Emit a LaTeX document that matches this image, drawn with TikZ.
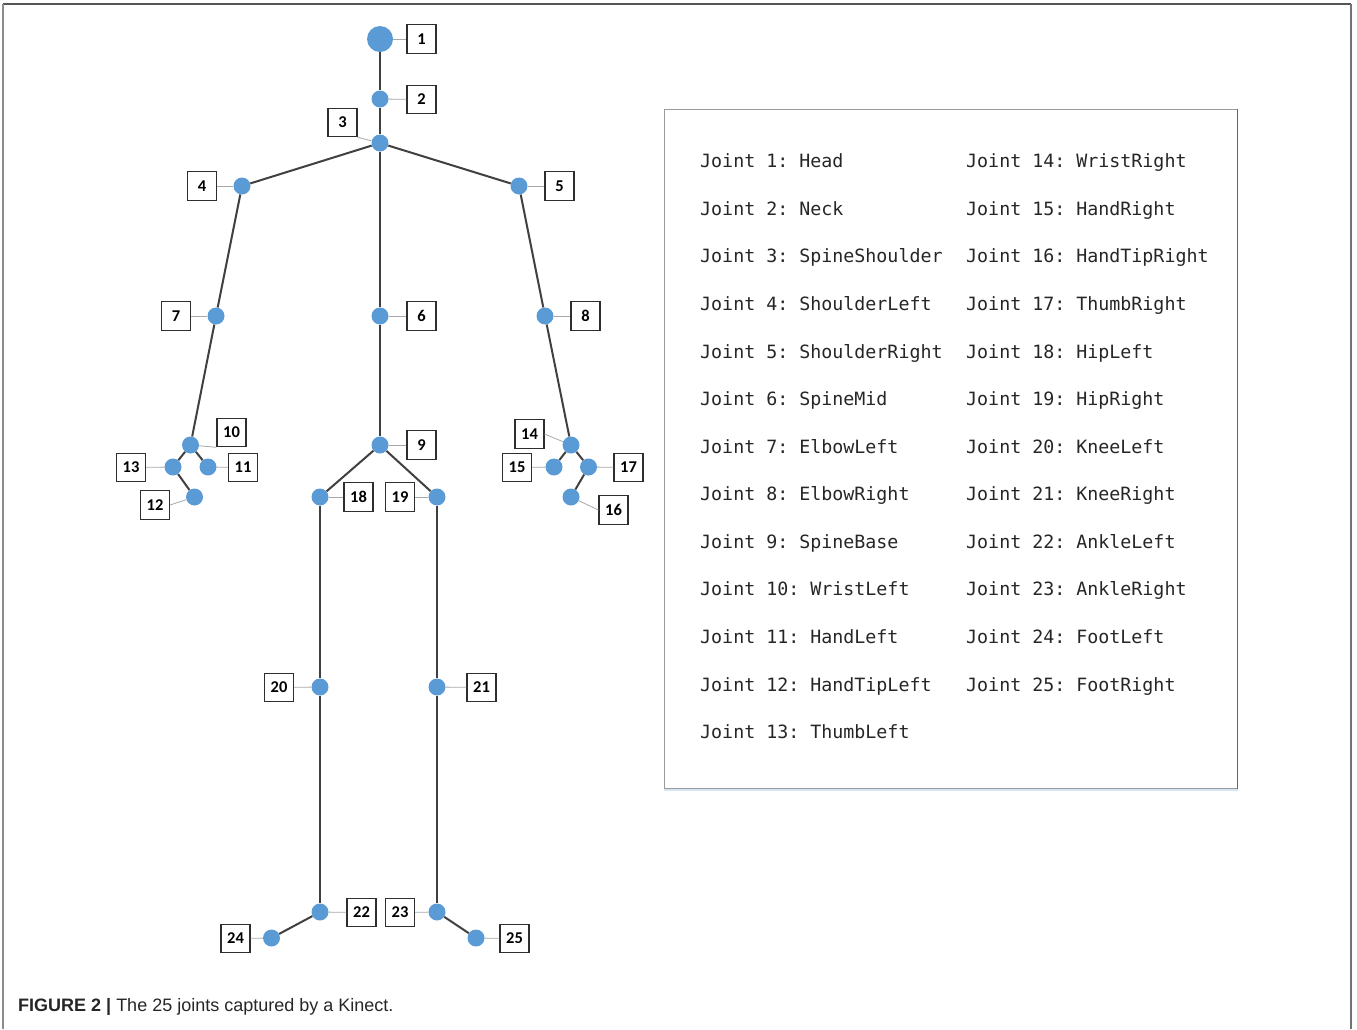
\documentclass[tikz,border=0pt]{standalone}
\usepackage{fontspec}
\setmainfont{Liberation Sans}
\newfontfamily\numfont{Carlito}
\newfontfamily\listfont{DejaVu Sans Mono}

\definecolor{jointblue}{HTML}{5B9BD5}
\definecolor{bonegray}{HTML}{404040}
\definecolor{leadgray}{HTML}{A8A8A8}
\definecolor{boxedge}{HTML}{2E2E2E}
\definecolor{framegray}{HTML}{555555}
\definecolor{panelgray}{HTML}{9A9A9A}

\begin{document}
\begin{tikzpicture}[x=1pt,y=-1pt,
  joint/.style={circle, fill=jointblue, inner sep=0pt, minimum size=17pt},
  bigjoint/.style={joint, minimum size=26pt},
  lbl/.style={draw=boxedge, line width=1.1pt, fill=white, inner sep=0pt,
    minimum width=29pt, minimum height=28.5pt,
    font=\numfont\bfseries\fontsize{16.5}{18}\selectfont},
  bone/.style={draw=bonegray, line width=2pt},
  lead/.style={draw=leadgray, line width=0.8pt},
  item/.style={anchor=base west, inner sep=0pt,
    font=\listfont\fontsize{18.3}{20}\selectfont\frenchspacing, text=black!85}]

\useasboundingbox (0,0) rectangle (1357,1029);

% outer frame
\draw[framegray, line width=2pt] (3,4) -- (1351,4);
\draw[black!45, line width=2pt] (3,4) -- (3,1029);
\draw[black!55, line width=2pt] (1351,4) -- (1351,1029);

% joints
\node[bigjoint] (j1) at (380,39) {};
\node[joint] (j2) at (380,99) {};
\node[joint] (j3) at (380,143) {};
\node[joint] (j4) at (242,186) {};
\node[joint] (j5) at (519,186) {};
\node[joint] (j6) at (380,316) {};
\node[joint] (j7) at (216,316) {};
\node[joint] (j8) at (545,316) {};
\node[joint] (j9) at (380,445) {};
\node[joint] (j10) at (190.5,445) {};
\node[joint] (j11) at (208,467) {};
\node[joint] (j12) at (194.5,497) {};
\node[joint] (j13) at (173,467) {};
\node[joint] (j14) at (571,445) {};
\node[joint] (j15) at (554,467) {};
\node[joint] (j16) at (571,497) {};
\node[joint] (j17) at (588.5,467) {};
\node[joint] (j18) at (320,497) {};
\node[joint] (j19) at (437,497) {};
\node[joint] (j20) at (320,687) {};
\node[joint] (j21) at (437,687) {};
\node[joint] (j22) at (320,912) {};
\node[joint] (j23) at (437,912) {};
\node[joint] (j24) at (271.5,938) {};
\node[joint] (j25) at (476,938) {};

% skeleton
\foreach \a/\b in {1/2,2/3,3/4,3/5,3/6,4/7,5/8,6/9,7/10,8/14,10/11,10/13,13/12,
                   14/15,14/17,17/16,9/18,9/19,18/20,19/21,20/22,21/23,22/24,23/25}
  \draw[bone] (j\a) -- (j\b);

% number labels
\node[lbl] (b1) at (421.5,39) {1};
\node[lbl] (b2) at (421.5,99.5) {2};
\node[lbl] (b3) at (342.5,122.5) {3};
\node[lbl] (b4) at (202,186) {4};
\node[lbl] (b5) at (559.5,186) {5};
\node[lbl] (b6) at (421.5,316) {6};
\node[lbl] (b7) at (176,316) {7};
\node[lbl] (b8) at (585.5,316) {8};
\node[lbl] (b9) at (421.5,445) {9};
\node[lbl] (b10) at (231.5,432.5) {10};
\node[lbl] (b11) at (243,467.5) {11};
\node[lbl] (b12) at (155,505) {12};
\node[lbl] (b13) at (131,467.5) {13};
\node[lbl] (b14) at (529.5,434) {14};
\node[lbl] (b15) at (517,467.5) {15};
\node[lbl] (b16) at (613.5,510) {16};
\node[lbl] (b17) at (628.5,467.5) {17};
\node[lbl] (b18) at (358.5,497) {18};
\node[lbl] (b19) at (400,497) {19};
\node[lbl] (b20) at (279,687.5) {20};
\node[lbl] (b21) at (481.5,687.5) {21};
\node[lbl] (b22) at (361.5,912.5) {22};
\node[lbl] (b23) at (400,912.5) {23};
\node[lbl] (b24) at (235.5,938.5) {24};
\node[lbl] (b25) at (514.5,938.5) {25};

% leader lines from joints to their labels
\foreach \n in {1,2,4,5,6,7,8,9,11,13,15,17,18,19,20,21,22,23,24,25}
  \draw[lead] (j\n) -- (b\n);
\draw[lead] (j3) -- (b3.south east);
\draw[lead] (j10) -- (b10.south west);
\draw[lead] (j12) -- (b12.east);
\draw[lead] (j14) -- (b14.east);
\draw[lead] (j16) -- (b16.west);

% joint name list
\node[draw=panelgray, line width=1pt, minimum width=573pt, minimum height=679pt,
      inner sep=0pt] (panel) at (950.5,448.5) {};
\draw[black!60, line width=1.2pt] (panel.north east) -- (panel.south east);
\draw[jointblue!25, line width=1.5pt] ([yshift=-1.5pt]panel.south west) -- ([yshift=-1.5pt]panel.south east);

\node[item] (t1) at (700,167) {Joint 1: Head};
\node[item] (t2) at (700,215) {Joint 2: Neck};
\node[item] (t3) at (700,262) {Joint 3: SpineShoulder};
\node[item] (t4) at (700,310) {Joint 4: ShoulderLeft};
\node[item] (t5) at (700,358) {Joint 5: ShoulderRight};
\node[item] (t6) at (700,405) {Joint 6: SpineMid};
\node[item] (t7) at (700,453) {Joint 7: ElbowLeft};
\node[item] (t8) at (700,500) {Joint 8: ElbowRight};
\node[item] (t9) at (700,548) {Joint 9: SpineBase};
\node[item] (t10) at (700,595) {Joint 10: WristLeft};
\node[item] (t11) at (700,643) {Joint 11: HandLeft};
\node[item] (t12) at (700,691) {Joint 12: HandTipLeft};
\node[item] (t13) at (700,738) {Joint 13: ThumbLeft};
\node[item] (t14) at (966,167) {Joint 14: WristRight};
\node[item] (t15) at (966,215) {Joint 15: HandRight};
\node[item] (t16) at (966,262) {Joint 16: HandTipRight};
\node[item] (t17) at (966,310) {Joint 17: ThumbRight};
\node[item] (t18) at (966,358) {Joint 18: HipLeft};
\node[item] (t19) at (966,405) {Joint 19: HipRight};
\node[item] (t20) at (966,453) {Joint 20: KneeLeft};
\node[item] (t21) at (966,500) {Joint 21: KneeRight};
\node[item] (t22) at (966,548) {Joint 22: AnkleLeft};
\node[item] (t23) at (966,595) {Joint 23: AnkleRight};
\node[item] (t24) at (966,643) {Joint 24: FootLeft};
\node[item] (t25) at (966,691) {Joint 25: FootRight};

% caption
\node[anchor=base west, inner sep=0pt, font=\fontsize{18}{20}\selectfont, text=black!85]
  (caption) at (18,1011) {\textbf{FIGURE 2 |} The 25 joints captured by a Kinect.};
\end{tikzpicture}
\end{document}
